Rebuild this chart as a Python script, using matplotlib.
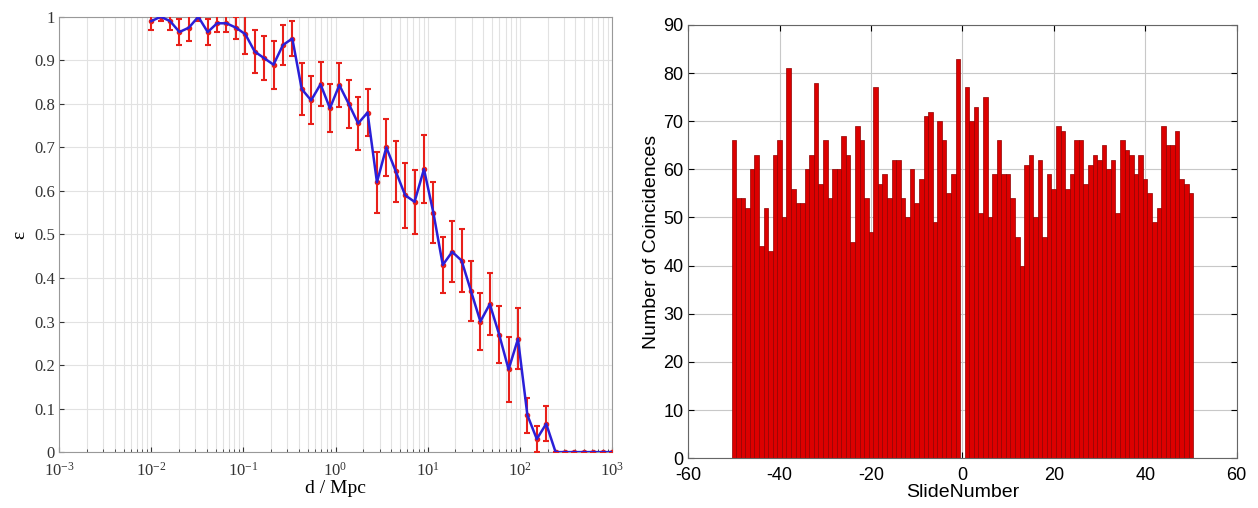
import numpy as np
import matplotlib
matplotlib.use("Agg")
from matplotlib import pyplot as plt
from matplotlib.ticker import LogLocator, LogFormatterMathtext, MultipleLocator, FixedLocator

# left panel: efficiency vs distance (50 log-spaced distances, 1e-2 .. 1e3 Mpc)
distance = np.logspace(-2, 3, 50)
efficiency = [0.99, 1.00, 0.99, 0.965, 0.975, 1.00, 0.965, 0.985, 0.985, 0.975,
              0.96, 0.92, 0.905, 0.89, 0.935, 0.95, 0.834, 0.808, 0.845, 0.79,
              0.843, 0.80, 0.755, 0.78, 0.62, 0.70, 0.645, 0.59, 0.575, 0.65,
              0.55, 0.43, 0.46, 0.44, 0.37, 0.30, 0.34, 0.27, 0.19, 0.26,
              0.085, 0.03, 0.065, 0, 0, 0, 0, 0, 0, 0]
eff_err = [0.02, 0.01, 0.02, 0.03, 0.03, 0.01, 0.03, 0.02, 0.02, 0.025,
           0.045, 0.05, 0.05, 0.055, 0.045, 0.04, 0.06, 0.055, 0.05, 0.055,
           0.05, 0.055, 0.06, 0.055, 0.07, 0.065, 0.07, 0.075, 0.073, 0.078,
           0.07, 0.065, 0.07, 0.072, 0.068, 0.065, 0.072, 0.065, 0.075, 0.07,
           0.04, 0.03, 0.04, 0, 0, 0, 0, 0, 0, 0]
eff_ticks = [0, 0.1, 0.2, 0.3, 0.4, 0.5, 0.6, 0.7, 0.8, 0.9, 1]
eff_labels = ['0', '0.1', '0.2', '0.3', '0.4', '0.5', '0.6', '0.7', '0.8', '0.9', '1']
dist_ticks = [1e-3, 1e-2, 1e-1, 1e0, 1e1, 1e2, 1e3]

# right panel: coincidences per time slide
slide_number = np.arange(-50, 51)
coincidences = [66, 54, 54, 52, 60, 63, 44, 52, 43, 63,
                66, 50, 81, 56, 53, 53, 60, 63, 78, 57,
                66, 54, 60, 60, 67, 63, 45, 69, 66, 54,
                47, 77, 57, 59, 54, 62, 62, 54, 50, 60,
                53, 58, 71, 72, 49, 70, 66, 55, 59, 83,
                0,
                77, 70, 73, 51, 75, 50, 59, 66, 59, 59,
                54, 46, 40, 61, 63, 50, 62, 46, 59, 56,
                69, 68, 56, 59, 66, 66, 57, 61, 63, 62,
                65, 60, 62, 51, 66, 64, 63, 59, 63, 58,
                55, 49, 52, 69, 65, 65, 68, 58, 57, 55]

plt.rcParams['mathtext.fontset'] = 'stix'
plt.rcParams['axes.unicode_minus'] = False

fig = plt.figure(figsize=(12.58, 5.08), dpi=100)

# ---- left
serif = 'Liberation Serif'
ax1 = fig.add_axes([0.047, 0.110, 0.4395, 0.857])
ax1.set_xscale('log')
ax1.errorbar(distance, efficiency, yerr=eff_err, fmt='o', color='#e8201a', ms=3,
             ecolor='#e8201a', elinewidth=1.5, capsize=2, capthick=1.5, zorder=3)
ax1.plot(distance, efficiency, color='#2a1fd8', lw=1.8, zorder=4)
ax1.set_xlim(1e-3, 1e3)
ax1.set_ylim(0, 1)
ax1.xaxis.set_major_locator(FixedLocator(dist_ticks))
ax1.xaxis.set_minor_locator(LogLocator(base=10, subs=np.arange(2, 10), numticks=20))
ax1.xaxis.set_major_formatter(LogFormatterMathtext())
ax1.set_yticks(eff_ticks)
ax1.set_yticklabels(eff_labels)
ax1.grid(True, which='both', axis='x', color='#e2e2e2', lw=0.8)
ax1.grid(True, which='major', axis='y', color='#e2e2e2', lw=0.8)
ax1.set_axisbelow(True)
ax1.tick_params(direction='in', which='both', top=False, right=False, labelsize=12,
                colors='#333333', pad=3)
ax1.tick_params(axis='x', pad=7)
ax1.tick_params(which='minor', length=2)
for lab in ax1.get_yticklabels() + ax1.get_xticklabels():
    lab.set_family(serif)
for s in ax1.spines.values():
    s.set_color('#999999')
ax1.set_xlabel('d / Mpc', family=serif, fontsize=14, labelpad=0)
ax1.set_ylabel('ε', family=serif, fontsize=14, labelpad=4)

# ---- right
sans = 'Liberation Sans'
ax2 = fig.add_axes([0.547, 0.098, 0.436, 0.853])
ax2.bar(slide_number, coincidences, width=1.0, color='#dc0000', edgecolor='#900000', linewidth=0.5)
ax2.set_xlim(-60, 60)
ax2.set_ylim(0, 90)
ax2.xaxis.set_major_locator(MultipleLocator(20))
ax2.yaxis.set_major_locator(MultipleLocator(10))
ax2.grid(True, color='#c8c8c8', lw=0.8)
ax2.set_axisbelow(True)
ax2.tick_params(direction='in', top=True, right=True, labelsize=13, length=4)
ax2.tick_params(axis='x', pad=6)
for lab in ax2.get_yticklabels() + ax2.get_xticklabels():
    lab.set_family(sans)
for s in ax2.spines.values():
    s.set_color('#666666')
ax2.set_xlabel('SlideNumber', family=sans, fontsize=14, labelpad=0)
ax2.set_ylabel('Number of Coincidences', family=sans, fontsize=14, labelpad=2)

fig.savefig('out.png', dpi=100)
